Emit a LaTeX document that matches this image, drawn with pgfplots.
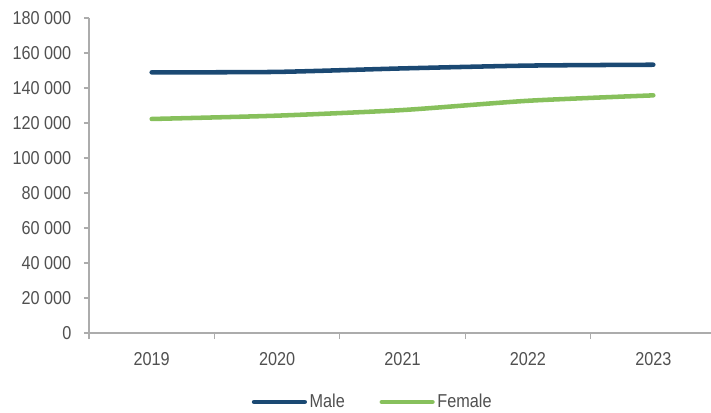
\documentclass[border=0pt]{standalone}
\usepackage{fontspec}
\setmainfont{Liberation Sans}[FakeStretch=0.87]
\usepackage{pgfplots}
\pgfplotsset{compat=1.18}

\definecolor{maleblue}{RGB}{27,73,115}
\definecolor{femalegreen}{RGB}{135,192,92}
\definecolor{axisgray}{RGB}{172,172,172}
\definecolor{labelgray}{RGB}{80,80,80}

% 1 px of the reference = 0.75pt
\begin{document}
\begin{tikzpicture}
\begin{axis}[
    name=ax,
    scale only axis,
    width=466.5pt, height=236.25pt,
    xmin=-0.5, xmax=4.46,
    ymin=0, ymax=180000,
    axis x line*=bottom,
    axis y line*=left,
    axis line style={axisgray, line width=1.2pt, -},
    xtick={0,1,2,3,4},
    xticklabels={2019,2020,2021,2022,2023},
    minor xtick={-0.5,0.5,1.5,2.5,3.5},
    major x tick style={draw=none},
    minor x tick style={axisgray, line width=1pt},
    minor tick length=4.5pt,
    scaled y ticks=false,
    ytick={0,20000,40000,60000,80000,100000,120000,140000,160000,180000},
    yticklabels={0,20\ 000,40\ 000,60\ 000,80\ 000,100\ 000,120\ 000,140\ 000,160\ 000,180\ 000},
    y tick style={axisgray, line width=1pt},
    major tick length=3.75pt,
    tick align=outside,
    tick label style={font=\fontsize{14}{16}\selectfont, text=labelgray},
    yticklabel style={xshift=-6pt},
    xticklabel style={yshift=-7pt},
    legend style={at={(0.4566,-0.219)}, anchor=center, draw=none,
        font=\fontsize{14}{16}\selectfont, text=labelgray,
        legend columns=2, /tikz/every even column/.append style={column sep=24pt},
        inner sep=0pt},
    legend image code/.code={
        \draw[#1, line cap=round] (0pt,0pt) -- (38pt,0pt);
    },
    clip=false,
]
\addplot[maleblue, line width=3.4pt, line cap=round, smooth, tension=0.4]
    coordinates {(0,148940)(1,149200)(2,151200)(3,152800)(4,153300)};
\addlegendentry{Male}
\addplot[femalegreen, line width=3.4pt, line cap=round, smooth, tension=0.4]
    coordinates {(0,122300)(1,124200)(2,127400)(3,132700)(4,135800)};
\addlegendentry{Female}
\end{axis}
\pgfresetboundingbox
\path[use as bounding box] (ax.south west) ++(-66.75pt,-59.25pt) rectangle ++(533.25pt,309pt);
\end{tikzpicture}
\end{document}
